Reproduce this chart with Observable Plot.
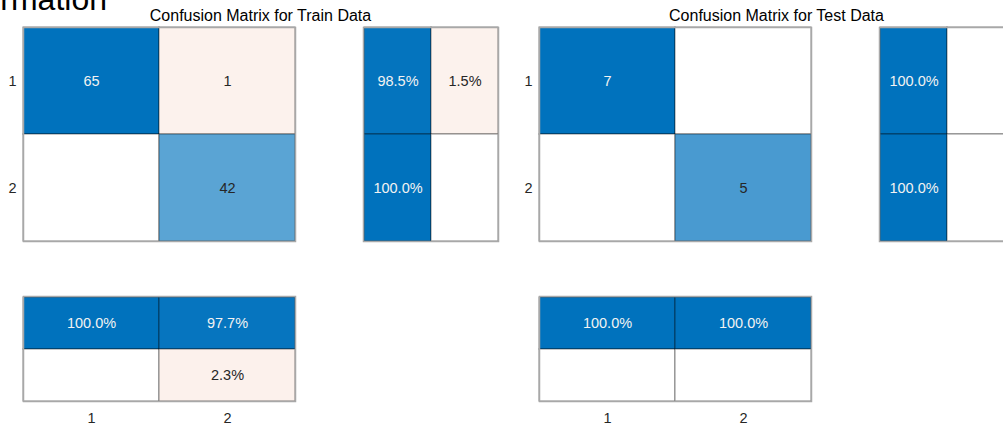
<!DOCTYPE html>
<html>
<head>
<meta charset="utf-8">
<script src="https://cdn.jsdelivr.net/npm/d3@7"></script>
<script src="https://cdn.jsdelivr.net/npm/@observablehq/plot@0.6"></script>
<style>
  body { margin: 0; background: #ffffff; }
  #fig {
    position: relative; width: 1003px; height: 423px; overflow: hidden;
    font-family: "Liberation Sans", Arial, Helvetica, sans-serif; color: #262626;
  }
  #fig > svg { position: absolute; }
</style>
</head>
<body>
<div id="fig"></div>
<script>
// Class labels and summary rows/columns
const classes = ["1", "2"];
const summaryKinds = ["correct", "incorrect"];

// Observation counts: rows = true class, columns = predicted class
const trainCounts = [[65, 1], [0, 42]];
const testCounts = [[7, 0], [0, 5]];

// Row summary (per true class): [% correct, % incorrect]
const trainRowPct = [[98.5, 1.5], [100.0, 0]];
const testRowPct = [[100.0, 0], [100.0, 0]];

// Column summary (per predicted class): [% correct, % incorrect]
const trainColPct = [[100.0, 0], [97.7, 2.3]];
const testColPct = [[100.0, 0], [100.0, 0]];

const titles = ["Confusion Matrix for Train Data", "Confusion Matrix for Test Data"];
const figureTitle = "Information";

// Colour ramps: white -> blue for correct, white -> orange for incorrect
const BLUE = "#0072BD";
const ORANGE = "#D95319";
const toBlue = d3.interpolateRgb("#ffffff", BLUE);
const toOrange = d3.interpolateRgb("#ffffff", ORANGE);
function intensity(good, v, max) {
  if (!v) return 0;
  return good ? v / max : 0.07 + 0.5 * v / max;
}
const fillOf = d => (d.good ? toBlue : toOrange)(d.t);
const inkOf = d => d.t > 0.8 ? "#f2f2f2" : "#262626";

const fmtCount = v => v ? String(v) : "";
const fmtPct = v => v ? v.toFixed(1) + "%" : "";

// Geometry of the panels (pixels)
const G = {
  top: 27, mainW: 272, mainH: 214,
  rowSumGap: 68, rowSumW: 135,
  colSumTop: 296, colSumH: 105,
  lefts: [23, 539]
};

const FONT = "'Liberation Sans', Arial, Helvetica, sans-serif";
const fig = document.getElementById("fig");

function panel({left, top, w, h, ml = 1, mr = 1, mt = 1, mb = 1, xDomain, yDomain, cells, fmt, xAxis = false, yAxis = false}) {
  const chart = Plot.plot({
    width: ml + w + mr,
    height: mt + h + mb,
    marginLeft: ml, marginRight: mr, marginTop: mt, marginBottom: mb,
    style: {fontFamily: FONT, fontSize: "14.5px", color: "#262626", background: "transparent", overflow: "visible"},
    x: {domain: xDomain, padding: 0, axis: xAxis ? "bottom" : null, tickSize: 0, tickPadding: 11, label: null},
    y: {domain: yDomain, padding: 0, axis: yAxis ? "left" : null, tickSize: 0, tickPadding: 7, label: null},
    color: {type: "identity"},
    marks: [
      Plot.cell(cells, {x: "x", y: "y", fill: fillOf, stroke: "#000000", strokeOpacity: 0.45, strokeWidth: 1}),
      Plot.frame({stroke: "#a8a8a8", strokeWidth: 1.5}),
      Plot.text(cells, {x: "x", y: "y", text: d => fmt(d.v), fill: inkOf, fontSize: 14.5})
    ]
  });
  chart.style.position = "absolute";
  chart.style.left = (left - ml) + "px";
  chart.style.top = (top - mt) + "px";
  fig.appendChild(chart);
}

function confusionBlock(counts, rowPct, colPct, left) {
  const max = d3.max(counts.flat());
  const main = [];
  counts.forEach((row, i) => row.forEach((v, j) => {
    const good = i === j;
    main.push({x: classes[j], y: classes[i], v, good, t: intensity(good, v, max)});
  }));
  const rowCells = [];
  rowPct.forEach((row, i) => row.forEach((v, k) => {
    const good = k === 0;
    rowCells.push({x: summaryKinds[k], y: classes[i], v, good, t: intensity(good, v, 100)});
  }));
  const colCells = [];
  colPct.forEach((col, j) => col.forEach((v, k) => {
    const good = k === 0;
    colCells.push({x: classes[j], y: summaryKinds[k], v, good, t: intensity(good, v, 100)});
  }));

  panel({left, top: G.top, w: G.mainW, h: G.mainH, ml: 23, xDomain: classes, yDomain: classes, cells: main, fmt: fmtCount, yAxis: true});
  panel({left: left + G.mainW + G.rowSumGap, top: G.top, w: G.rowSumW, h: G.mainH, xDomain: summaryKinds, yDomain: classes, cells: rowCells, fmt: fmtPct});
  panel({left, top: G.colSumTop, w: G.mainW, h: G.colSumH, mb: 30, xDomain: classes, yDomain: summaryKinds, cells: colCells, fmt: fmtPct, xAxis: true});
}

confusionBlock(trainCounts, trainRowPct, trainColPct, G.lefts[0]);
confusionBlock(testCounts, testRowPct, testColPct, G.lefts[1]);

// Titles
const overlay = d3.select(fig).append("svg")
  .attr("width", 1003).attr("height", 40)
  .style("left", "0px").style("top", "0px")
  .style("font-family", FONT);

overlay.append("text")
  .attr("x", 107).attr("y", 10)
  .attr("text-anchor", "end")
  .attr("font-size", 32)
  .attr("fill", "#000000")
  .text(figureTitle);

titles.forEach((t, i) => {
  const l = G.lefts[i];
  const center = (l + l + G.mainW + G.rowSumGap + G.rowSumW) / 2;
  overlay.append("text")
    .attr("x", center).attr("y", 21)
    .attr("text-anchor", "middle")
    .attr("font-size", 16)
    .attr("fill", "#000000")
    .text(t);
});
</script>
</body>
</html>
